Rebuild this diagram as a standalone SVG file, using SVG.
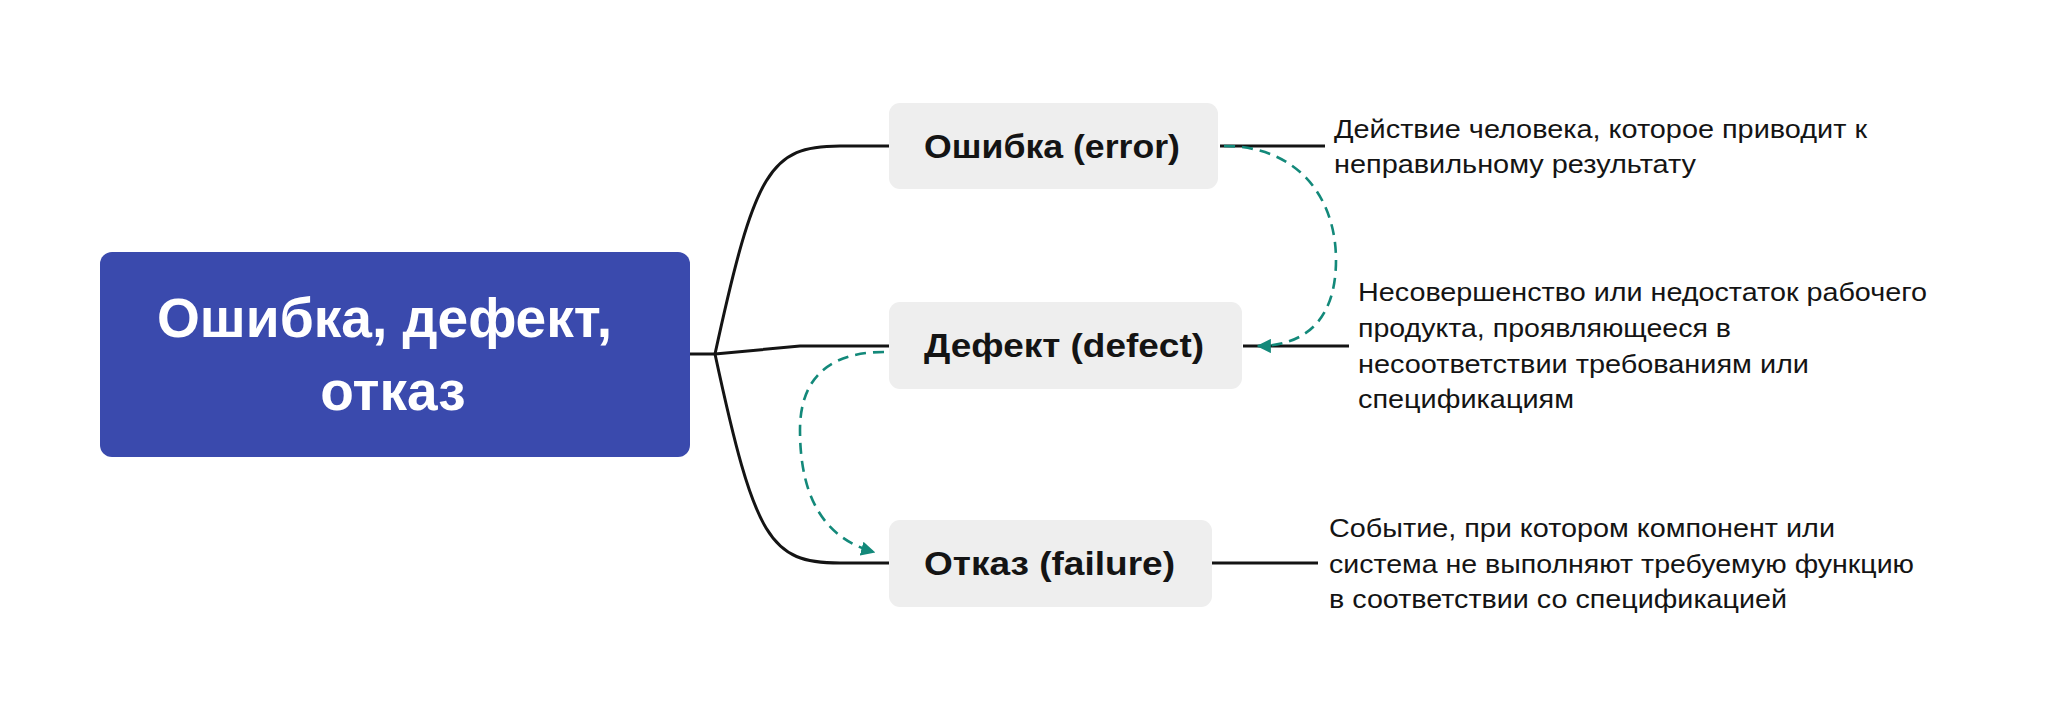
<svg xmlns="http://www.w3.org/2000/svg" width="2048" height="727" viewBox="0 0 2048 727">
<style>
.node{fill:#eeeeee}
.ntext{font-family:"Liberation Sans",Arial,sans-serif;font-weight:bold;font-size:34px;fill:#141414}
.desc{font-family:"Liberation Sans",Arial,sans-serif;font-size:26px;fill:#141414}
.conn{fill:none;stroke:#141414;stroke-width:3}
.dash{fill:none;stroke:#13897a;stroke-width:2.6;stroke-dasharray:11 7}
.rtext{font-family:"Liberation Sans",Arial,sans-serif;font-weight:bold;font-size:55px;fill:#ffffff}
</style>
<defs>
<marker id="ah" viewBox="0 0 10 10" refX="9" refY="5" markerWidth="5.5" markerHeight="5.5" orient="auto" markerUnits="strokeWidth">
<path d="M0,0 L10,5 L0,10 z" fill="#13897a"/>
</marker>
</defs>
<rect width="2048" height="727" fill="#ffffff"/>
<g id="connectors">
<path class="conn" d="M690,354 L715,354"/>
<path class="conn" d="M715,354 C755,170 770,146 840,146 L889,146"/>
<path class="conn" d="M715,354 L800,346 L889,346"/>
<path class="conn" d="M715,354 C755,540 770,563 840,563 L889,563"/>
<path class="conn" d="M1220,146 L1325,146"/>
<path class="conn" d="M1243,346 L1349,346"/>
<path class="conn" d="M1212,563 L1318,563"/>
<path class="dash" d="M1224,146 C1300,146 1336,200 1336,260 C1336,320 1305,346 1258,346" marker-end="url(#ah)"/>
<path class="dash" d="M884,352 C822,352 800,385 800,430 C800,505 830,540 874,552" marker-end="url(#ah)"/>
</g>
<g id="root">
<rect x="100" y="252" width="590" height="205" rx="12" fill="#3a4aad"/>
<text class="rtext" x="157" y="337" textLength="455" lengthAdjust="spacingAndGlyphs">Ошибка, дефект,</text>
<text class="rtext" x="393" y="410" text-anchor="middle">отказ</text>
</g>
<g id="error">
<rect class="node" x="889" y="103" width="329" height="86" rx="11"/>
<text class="ntext" x="924" y="158" textLength="256" lengthAdjust="spacingAndGlyphs">Ошибка (error)</text>
</g>
<g id="defect">
<rect class="node" x="889" y="302" width="353" height="87" rx="11"/>
<text class="ntext" x="924" y="357" textLength="280" lengthAdjust="spacingAndGlyphs">Дефект (defect)</text>
</g>
<g id="failure">
<rect class="node" x="889" y="520" width="323" height="87" rx="11"/>
<text class="ntext" x="924" y="575" textLength="251" lengthAdjust="spacingAndGlyphs">Отказ (failure)</text>
</g>
<g id="error-desc">
<text class="desc" x="1334" y="138" textLength="533" lengthAdjust="spacingAndGlyphs">Действие человека, которое приводит к</text>
<text class="desc" x="1334" y="173" textLength="362" lengthAdjust="spacingAndGlyphs">неправильному результату</text>
</g>
<g id="defect-desc">
<text class="desc" x="1358" y="301" textLength="569" lengthAdjust="spacingAndGlyphs">Несовершенство или недостаток рабочего</text>
<text class="desc" x="1358" y="337" textLength="373" lengthAdjust="spacingAndGlyphs">продукта, проявляющееся в</text>
<text class="desc" x="1358" y="373" textLength="451" lengthAdjust="spacingAndGlyphs">несоответствии требованиям или</text>
<text class="desc" x="1358" y="408" textLength="216" lengthAdjust="spacingAndGlyphs">спецификациям</text>
</g>
<g id="failure-desc">
<text class="desc" x="1329" y="537" textLength="506" lengthAdjust="spacingAndGlyphs">Событие, при котором компонент или</text>
<text class="desc" x="1329" y="573" textLength="585" lengthAdjust="spacingAndGlyphs">система не выполняют требуемую функцию</text>
<text class="desc" x="1329" y="608" textLength="458" lengthAdjust="spacingAndGlyphs">в соответствии со спецификацией</text>
</g>
</svg>
